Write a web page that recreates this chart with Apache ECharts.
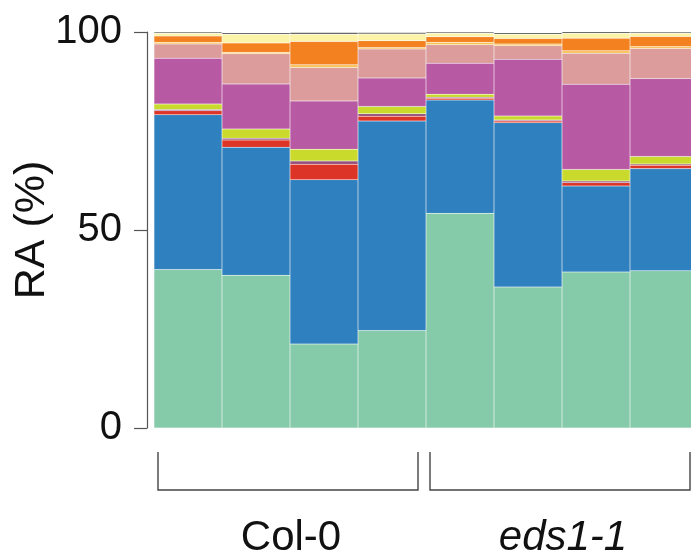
<!DOCTYPE html>
<html>
<head>
<meta charset="utf-8">
<script src="https://cdn.jsdelivr.net/npm/echarts@6/dist/echarts.min.js"></script>
<style>
  html, body { margin: 0; padding: 0; background: #fff; overflow: hidden; }
  #chart { width: 691px; height: 558px; }
</style>
</head>
<body>
<div id="chart"></div>
<script>
// Samples (four replicates per genotype)
const samples = ['Col-0 r1', 'Col-0 r2', 'Col-0 r3', 'Col-0 r4', 'eds1-1 r1', 'eds1-1 r2', 'eds1-1 r3', 'eds1-1 r4'];
const yTicks = [0, 50, 100];

// Relative abundance (%) per taxon, stacked bottom to top
const teal    = [40.0, 38.6, 21.2, 24.6, 54.2, 35.6, 39.4, 39.7];
const blue    = [39.1, 32.3, 41.5, 52.9, 28.6, 41.5, 21.7, 25.8];
const red     = [1.0, 1.8, 3.9, 1.25, 0.5, 0.4, 0.85, 0.85];
const plum    = [0.3, 0.5, 0.85, 0.6, 0.2, 0.3, 0.4, 0.3];
const lime    = [1.4, 2.3, 2.95, 1.85, 0.8, 1.0, 2.95, 1.9];
const magenta = [11.6, 11.4, 12.2, 7.2, 7.8, 14.3, 21.5, 19.7];
const pink    = [3.6, 7.6, 8.45, 7.3, 4.7, 3.45, 7.85, 7.6];
const gold    = [0.4, 0.4, 0.65, 0.4, 0.6, 0.4, 0.6, 0.5];
const orange  = [1.6, 2.35, 5.9, 1.7, 1.4, 1.4, 3.2, 2.5];
const cream   = [0.7, 2.2, 1.85, 1.7, 0.9, 1.1, 1.25, 0.85];
const grey    = [0.3, 0.35, 0.4, 0.4, 0.3, 0.35, 0.4, 0.3];

// Genotype groups shown with brackets under the bars
const groupNames = ['Col-0', 'eds1-1'];
const groupStart = [0, 4];
const groupEnd   = [3, 7];

const layers = [
  { data: teal,    color: '#86cba9' },
  { data: blue,    color: '#2f80be' },
  { data: red,     color: '#dd3428' },
  { data: plum,    color: '#94507c' },
  { data: lime,    color: '#c9da2d' },
  { data: magenta, color: '#b85aa3' },
  { data: pink,    color: '#dd9c9c' },
  { data: gold,    color: '#f8c25a' },
  { data: orange,  color: '#f38120' },
  { data: cream,   color: '#fbf4a8' },
  { data: grey,    color: '#5c5c5c' }
];

const barWidthPx = 68;
const font = '"Liberation Sans", Arial, Helvetica, sans-serif';

const chart = echarts.init(document.getElementById('chart'), null, { renderer: 'canvas' });

const option = {
  animation: false,
  backgroundColor: '#ffffff',
  grid: {
    left: 154, top: 32, height: 396, width: barWidthPx * samples.length,
    containLabel: false,
    outerBoundsMode: 'none'
  },
  xAxis: {
    type: 'category',
    data: samples,
    show: false,
    boundaryGap: true
  },
  yAxis: {
    type: 'value',
    min: 0,
    max: 100,
    interval: 50,
    offset: 7,
    name: 'RA (%)',
    nameLocation: 'middle',
    nameGap: 93,
    nameMoveOverlap: false,
    nameTextStyle: { fontFamily: font, fontSize: 43, color: '#111' },
    axisLine: { show: true, lineStyle: { color: '#555', width: 1.2 } },
    axisTick: { show: true, length: 13, lineStyle: { color: '#555', width: 1.2 } },
    axisLabel: {
      margin: 25,
      fontFamily: font,
      fontSize: 40,
      color: '#111',
      formatter: v => (yTicks.indexOf(v) >= 0 ? String(v) : '')
    },
    splitLine: { show: false }
  },
  series: layers.map((l, i) => ({
    type: 'bar',
    stack: 'ra',
    barCategoryGap: 0,
    data: l.data,
    itemStyle: { color: l.color, borderColor: 'rgba(255,255,255,0.2)', borderWidth: 0.5 },
    emphasis: { disabled: true }
  }))
};

chart.setOption(option);

// Group brackets and labels placed from the category axis positions
const graphics = [];
for (let g = 0; g < groupNames.length; g++) {
  const x0 = chart.convertToPixel({ xAxisIndex: 0 }, groupStart[g]) - 30;
  const x1 = chart.convertToPixel({ xAxisIndex: 0 }, groupEnd[g]) + 26;
  const yTop = 452, yBot = 490;
  graphics.push({
    type: 'polyline',
    shape: { points: [[x0, yTop], [x0, yBot], [x1, yBot], [x1, yTop]] },
    style: { stroke: '#444', lineWidth: 1.4, fill: null },
    silent: true
  });
  graphics.push({
    type: 'text',
    x: (x0 + x1) / 2 + 3,
    y: 538,
    style: {
      text: groupNames[g],
      fontFamily: font,
      fontSize: 42,
      fontStyle: g === 1 ? 'italic' : 'normal',
      fill: '#111',
      align: 'center',
      verticalAlign: 'middle'
    },
    silent: true
  });
}
chart.setOption({ graphic: graphics });
</script>
</body>
</html>
